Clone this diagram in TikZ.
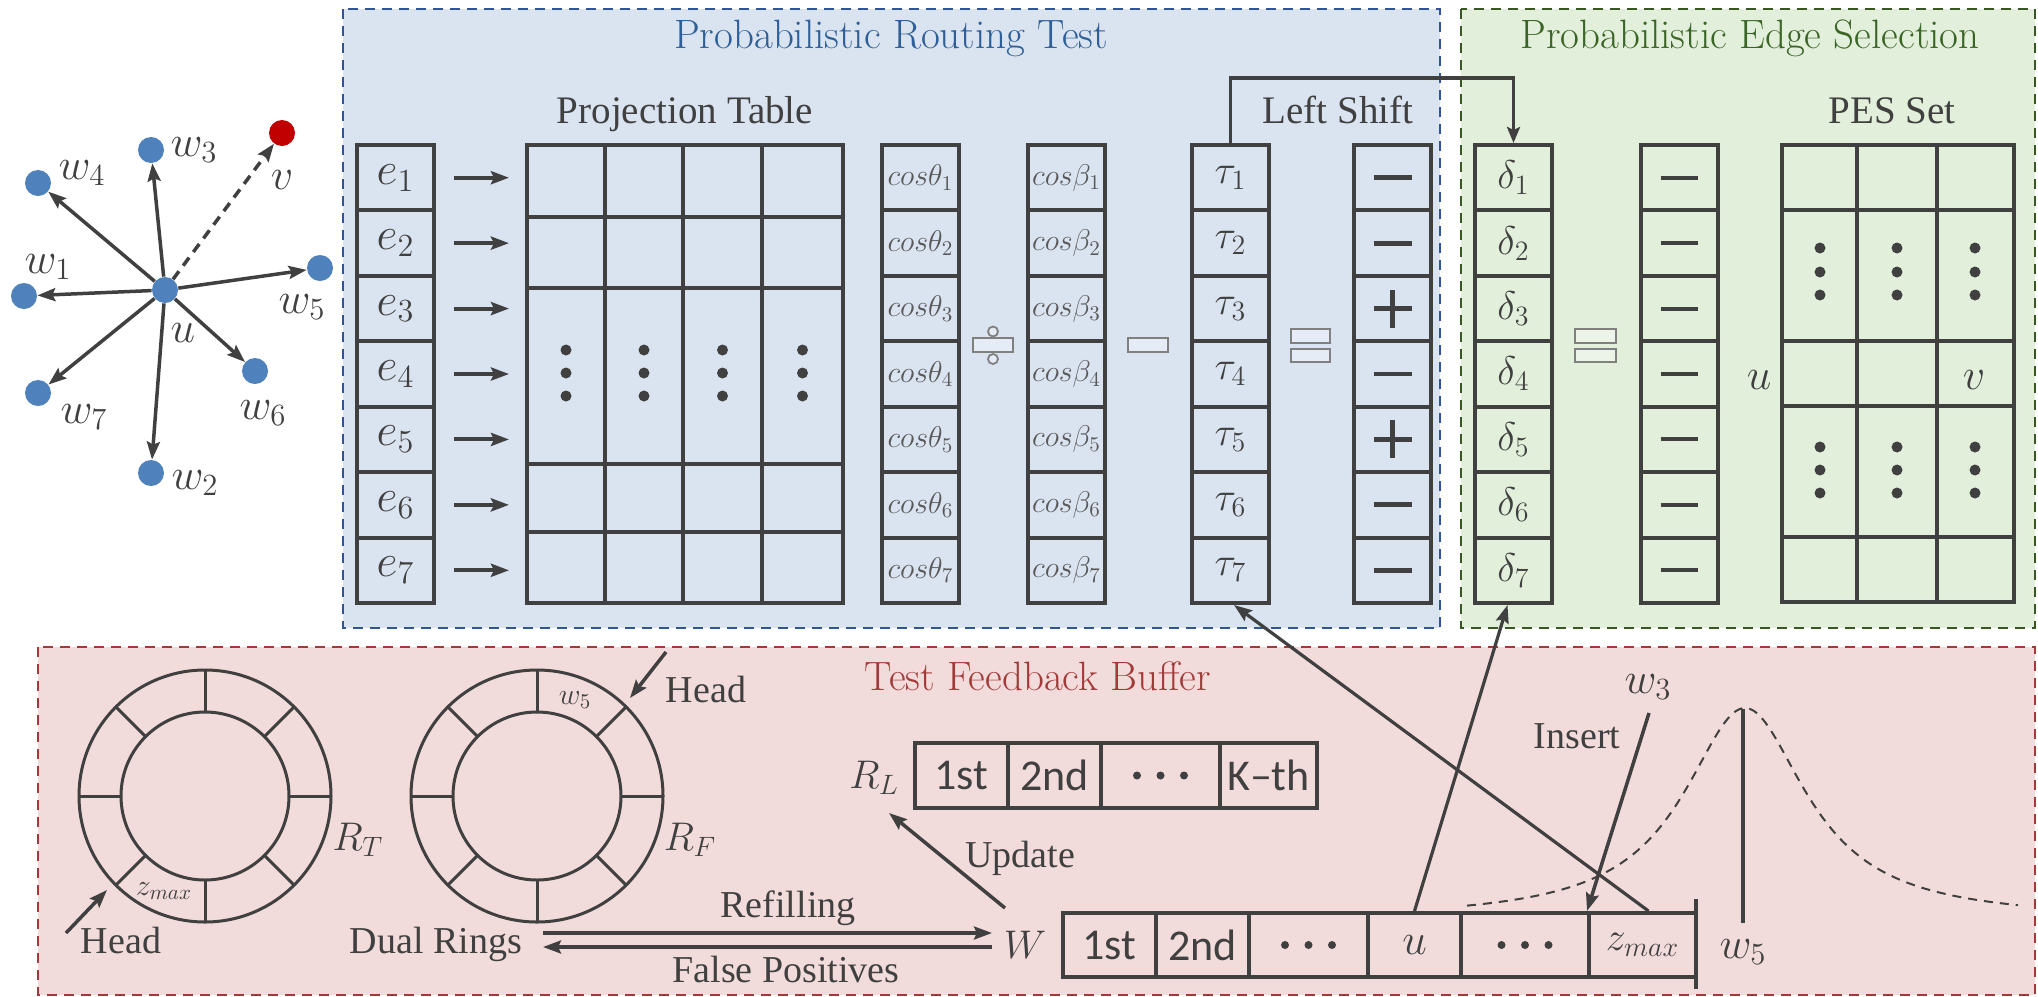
\RequirePackage{fix-cm}
\documentclass[tikz,border=0pt]{standalone}
\usepackage{fontspec}
\newfontfamily\cam{Liberation Serif}
\newfontfamily\calf{Carlito}
\usetikzlibrary{arrows.meta}
\definecolor{dk}{HTML}{404040}
\definecolor{cosg}{HTML}{595959}
\definecolor{nblue}{HTML}{4F81BD}
\definecolor{nred}{HTML}{C00000}
\definecolor{bfill}{HTML}{DAE3F0}
\definecolor{bbord}{HTML}{2F5597}
\definecolor{btext}{HTML}{2F5F98}
\definecolor{gfill}{HTML}{E2EFDA}
\definecolor{gbord}{HTML}{385723}
\definecolor{gtext}{HTML}{3B6526}
\definecolor{rfill}{HTML}{F2DCDB}
\definecolor{rbord}{HTML}{A33A3A}
\definecolor{rtext}{HTML}{A33A3A}
\definecolor{opg}{HTML}{808080}
\definecolor{opfb}{HTML}{E6ECF5}
\definecolor{opfg}{HTML}{EBF4E6}
\begin{document}
\begin{tikzpicture}[x=0.5pt,y=-0.5pt,
  every node/.style={inner sep=0pt, text=dk},
  lbl/.style={font=\cam\fontsize{19.5}{22}\selectfont},
  lbls/.style={font=\cam\fontsize{19}{22}\selectfont},
  ttl/.style={font=\fontsize{20.5}{24}\selectfont},
  mth/.style={font=\fontsize{22}{26}\selectfont},
  cell/.style={draw=dk, line width=2pt, minimum width=38.5pt, minimum height=32.715pt},
  acell/.style={draw=dk, line width=2pt, minimum height=32.3pt, font=\calf\fontsize{22}{26}\selectfont},
  arr/.style={draw=dk, line width=1.75pt, -{Stealth[length=9pt,width=6.5pt,inset=1.5pt]}},
  gn/.style={circle, fill=nblue, minimum size=13pt},
  op/.style={draw=opg, line width=0.9pt},
  sg/.style={draw=dk, line width=2.4pt},
  dsh/.style={line width=1.25pt, dash pattern=on 5pt off 3.5pt},
]
\useasboundingbox (0,0) rectangle (2038,996);

% ---------- section boxes ----------
\path[fill=bfill] (343,9) rectangle (1440,628);
\draw[bbord, dsh] (343,9) rectangle (1440,628);
\path[fill=gfill] (1461,9) rectangle (2035,628);
\draw[gbord, dsh] (1461,9) rectangle (2035,628);
\path[fill=rfill] (38,647) rectangle (2035,995);
\draw[rbord, dsh] (38,647) rectangle (2035,995);

\node[ttl, text=btext, anchor=base] (t1ttl) at (891,48) {Probabilistic Routing Test};
\node[ttl, text=gtext, anchor=base] (t2ttl) at (1750,48) {Probabilistic Edge Selection};
\node[ttl, text=rtext, anchor=base] (t3ttl) at (1038,690) {Test Feedback Buffer};

% ---------- graph ----------
\node[gn] (u) at (165,290) {};
\node[gn] (w1) at (24,296) {};
\node[gn] (w2) at (151,473) {};
\node[gn] (w3) at (151,150) {};
\node[gn] (w4) at (38,183) {};
\node[gn] (w5) at (320,268) {};
\node[gn] (w6) at (255,371) {};
\node[gn] (w7) at (38,393) {};
\node[circle, fill=nred, minimum size=13pt] (v) at (282,133) {};
\foreach \n in {w1,w2,w3,w4,w5,w6,w7} \draw[arr] (u) -- (\n);
\draw[arr, dash pattern=on 5pt off 3.5pt] (u) -- (v);
\node[mth] (lw3) at (194,150) {$w_3$};
\node[mth] (lw4) at (82,173) {$w_4$};
\node[mth] (lw1) at (48,267) {$w_1$};
\node[mth] (lw5) at (302,307) {$w_5$};
\node[mth] (lu) at (183,333) {$u$};
\node[mth] (lw6) at (263,413) {$w_6$};
\node[mth] (lw7) at (84,417) {$w_7$};
\node[mth] (lw2) at (195,483) {$w_2$};
\node[mth] (lv) at (282,180) {$v$};

% ---------- projection part ----------
\node[lbl, anchor=base] (ptl) at (685,123) {Projection Table};
\node[lbl, anchor=base] (lsl) at (1338,123) {Left Shift};
\node[lbl, anchor=base] (pesl) at (1892,123) {PES Set};

\node[draw=dk, line width=2pt, minimum width=158pt, minimum height=229pt] (pt) at (685,374) {};
\foreach \x in {605,683,762} \draw[dk, line width=2pt] (\x,145) -- (\x,603);
\foreach \y in {217,288,464,532} \draw[dk, line width=2pt] (527,\y) -- (843,\y);
\foreach \x in {566,644,722.5,802.5} \foreach \y in {350,373,396} \fill[dk] (\x,\y) circle[radius=2.75pt];

\foreach \i in {1,...,7} {
  \node[cell, font=\fontsize{23}{27}\selectfont] (e\i) at (395.5,{145+65.43*(\i-0.5)}) {$e_{\i}$};
  \draw[arr, line width=2pt, shorten <=9pt, shorten >=8pt] (e\i.east) -- (e\i.east -| pt.west);
  \node[cell, font=\fontsize{15}{17}\selectfont, text=cosg] (c\i) at (920.5,{145+65.43*(\i-0.5)}) {$cos\theta_{\i}$};
  \node[cell, font=\fontsize{15}{17}\selectfont, text=cosg] (b\i) at (1066.5,{145+65.43*(\i-0.5)}) {$cos\beta_{\i}$};
  \node[cell, font=\fontsize{20}{24}\selectfont] (t\i) at (1230.5,{145+65.43*(\i-0.5)}) {$\tau_{\i}$};
  \node[cell] (s\i) at (1392.5,{145+65.43*(\i-0.5)}) {};
  \draw[sg] ([xshift=-9.5pt]s\i.center) -- ([xshift=9.5pt]s\i.center);
  \node[cell, font=\fontsize{20}{24}\selectfont] (d\i) at (1513.5,{145+65.43*(\i-0.5)}) {$\delta_{\i}$};
  \node[cell] (m\i) at (1679,{145+65.43*(\i-0.5)}) {};
  \draw[dk, line width=2pt] ([xshift=-9.25pt]m\i.center) -- ([xshift=9.25pt]m\i.center);
}
\foreach \i in {3,5} \draw[sg] ([yshift=-9.5pt]s\i.center) -- ([yshift=9.5pt]s\i.center);

% operators
\draw[op, fill=opfb] (973,338) rectangle (1013,352);
\draw[op, fill=opfb] (993,331.5) circle[radius=2.5pt];
\draw[op, fill=opfb] (993,359) circle[radius=2.5pt];
\draw[op, fill=opfb] (1128,338) rectangle (1168,352);
\draw[op, fill=opfb] (1291,329) rectangle (1330,343);
\draw[op, fill=opfb] (1291,349) rectangle (1330,362);
\draw[op, fill=opfg] (1575,329) rectangle (1616,343);
\draw[op, fill=opfg] (1575,349) rectangle (1616,362);

% left shift connector
\coordinate (lsy) at (0,78);
\draw[arr, line width=1.9pt, -{Stealth[length=8pt,width=6.5pt,inset=1.5pt]}] (t1.north) -- (t1.north |- lsy) -| (d1.north);

% PES table
\node[draw=dk, line width=2pt, minimum width=116pt, minimum height=228.5pt] (pes) at (1898,373.5) {};
\foreach \x in {1857,1937} \draw[dk, line width=2pt] (\x,145) -- (\x,602);
\foreach \y in {210,341,406,537} \draw[dk, line width=2pt] (1782,\y) -- (2014,\y);
\foreach \x in {1820,1897,1975} \foreach \y in {248,272,295,447,470,493} \fill[dk] (\x,\y) circle[radius=2.75pt];
\node[mth] (pu) at (1759,380) {$u$};
\node[mth] (pv) at (1974,380) {$v$};

% ---------- feedback buffer ----------
\foreach \cx/\nm in {205/rt,537/rf} {
  \draw[dk, line width=1.5pt] (\cx,796) circle[radius=63pt];
  \draw[dk, line width=1.5pt] (\cx,796) circle[radius=42pt];
  \foreach \a in {0,45,...,315} \draw[dk, line width=1.5pt] (\cx,796) ++(\a:84) -- ++(\a:42);
}
\node[font=\fontsize{15}{17}\selectfont] (zr) at (164,891) {$z_{max}$};
\node[font=\fontsize{15}{17}\selectfont] (w5r) at (575,700) {$w_5$};
\node[font=\fontsize{20}{24}\selectfont] (RT) at (358,840) {$R_T$};
\node[font=\fontsize{20}{24}\selectfont] (RF) at (690,840) {$R_F$};
\node[lbls, anchor=base] (h1) at (121,953) {Head};
\node[lbls, anchor=base] (h2) at (706,702) {Head};
\coordinate (h1a) at (66,933); \coordinate (h1b) at (107,890);
\coordinate (h2a) at (666,652); \coordinate (h2b) at (630,698);
\draw[arr] (h1a) -- (h1b);
\draw[arr] (h2a) -- (h2b);

\node[lbls, anchor=base] (dr) at (436,953) {Dual Rings};
\node[lbls, anchor=base] (refl) at (788,917) {Refilling};
\node[lbls, anchor=base] (fpl) at (786,982) {False Positives};
\node[font=\fontsize{20}{24}\selectfont] (Wl) at (1025,945) {$W$};
\coordinate (rfa) at (543,933); \coordinate (rfb) at (992,933);
\coordinate (fpa) at (992,947); \coordinate (fpb) at (543,947);
\draw[arr] (rfa) -- (rfb);
\draw[arr] (fpa) -- (fpb);

\node[font=\fontsize{20}{24}\selectfont] (RL) at (874,778) {$R_L$};
\node[lbls, anchor=base] (upl) at (1020,867) {Update};
\coordinate (upa) at (1005,908); \coordinate (upb) at (889,813);
\draw[arr] (upa) -- (upb);

% R_L array
\node[acell, minimum width=46.5pt] (r1) at (961.5,775.5) {1st};
\node[acell, minimum width=46.5pt] (r2) at (1054.5,775.5) {2nd};
\node[acell, minimum width=59.5pt] (r3) at (1160.5,775.5) {};
\node[acell, minimum width=48.5pt] (r4) at (1268.5,775.5) {K–th};
\foreach \d in {-23.5,0,23.5} \fill[dk] ([xshift=\d*0.5pt]r3.center) circle[radius=2pt];

% W array
\node[acell, minimum width=46.5pt, minimum height=32pt] (a1) at (1109.5,945) {1st};
\node[acell, minimum width=46.5pt, minimum height=32pt] (a2) at (1202.5,945) {2nd};
\node[acell, minimum width=59.5pt, minimum height=32pt] (a3) at (1308.5,945) {};
\node[acell, minimum width=46.5pt, minimum height=32pt, font=\fontsize{22}{26}\selectfont] (wu) at (1414.5,945) {$u$};
\node[acell, minimum width=64pt, minimum height=32pt] (a5) at (1525,945) {};
\node[acell, minimum width=53.5pt, minimum height=32pt, font=\fontsize{20}{24}\selectfont] (wz) at (1642.5,945) {$z_{max}$};
\foreach \d in {-23.5,0,23.5} {
  \fill[dk] ([xshift=\d*0.5pt]a3.center) circle[radius=2pt];
  \fill[dk] ([xshift=\d*0.5pt]a5.center) circle[radius=2pt];
}
\draw[dk, line width=2pt] (1696,899) -- (1696,989);

% curve
\draw[dk, line width=1pt, dash pattern=on 4.5pt off 3.5pt] plot[domain=1467:2018, samples=120, smooth] (\x,{920-212/(1+((\x-1745)/75)^2)});

% connectors from W
\draw[arr, line width=1.6pt] (wu.north) -- ([xshift=-3pt]d7.south);
\draw[arr, line width=1.6pt] ([xshift=3pt]wz.north) -- ([xshift=1.75pt]t7.south);

\node[mth] (w3b) at (1648,687) {$w_3$};
\node[lbls, anchor=base] (insl) at (1577,748) {Insert};
\coordinate (insa) at (1649,713);
\draw[arr] (insa) -- (wz.north west);

\node[mth] (w5b) at (1743,952) {$w_5$};
\coordinate (pk) at (1743,709);
\coordinate (pkb) at (1743,923);
\draw[dk, line width=1.75pt] (pk) -- (pkb);
\end{tikzpicture}
\end{document}
